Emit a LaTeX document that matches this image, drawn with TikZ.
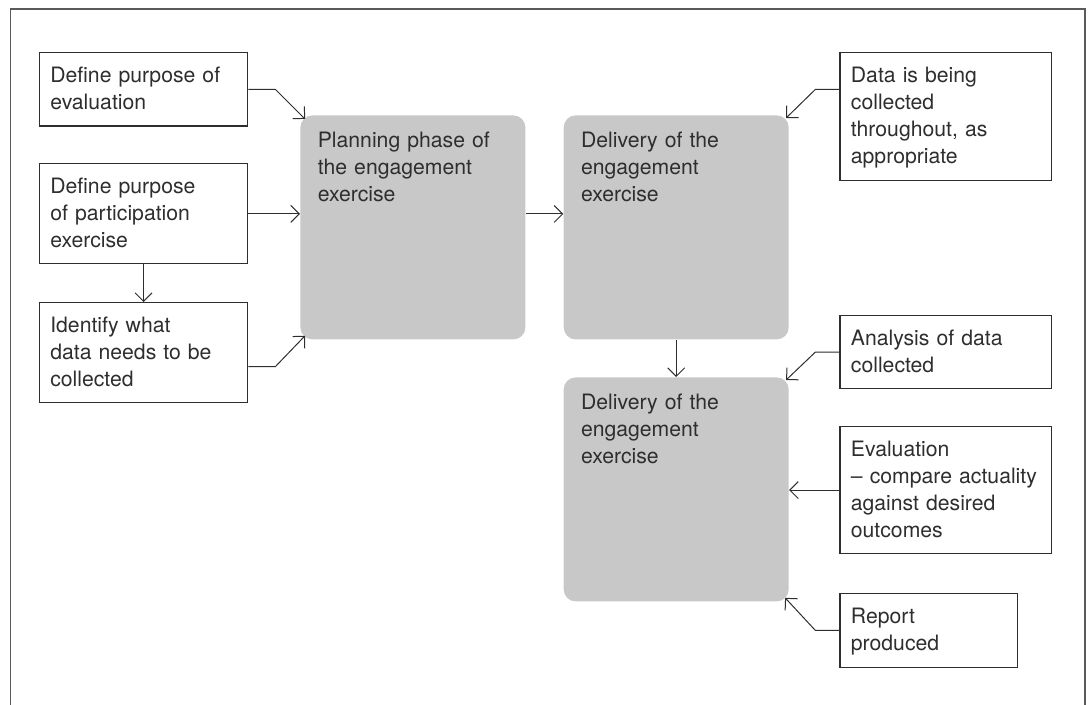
\documentclass[tikz,border=0pt]{standalone}
\usepackage{fontspec}
\setmainfont{TeX Gyre Heros}
\usepackage{xcolor}
\usetikzlibrary{arrows.meta,calc}

\definecolor{boxgrey}{HTML}{C8C8C8}
\definecolor{inkgrey}{HTML}{2E2E2E}
\definecolor{framegrey}{HTML}{5A5A5A}

\begin{document}
\frenchspacing
\begin{tikzpicture}[x=0.5pt,y=-0.5pt,draw=inkgrey,
  every node/.style={font=\fontsize{10.6}{13.45}\selectfont,text=inkgrey},
  note/.style={draw,line width=0.6pt,anchor=north west,inner xsep=5.5pt,inner ysep=6pt,
    text height=9pt,align=left,text width=#1,execute at end node={\rule[-2.1pt]{0pt}{2.1pt}}},
  phase/.style={fill=boxgrey,rounded corners=6pt,anchor=north west,inner xsep=8.7pt,inner ysep=7pt,
    text height=9pt,text depth=89pt,align=left,text width=95.1pt},
  link/.style={->,>={Straight Barb[angle=90:6pt]},line width=0.5pt}]
\useasboundingbox (0,0) rectangle (1090,705);
\draw[framegrey,line width=0.75pt] (10.7,705) -- (10.7,9) -- (1085,9) -- (1085,705);

\node[note=93.25pt] (evalpurp) at (38.7,52.3) {Define purpose of\\evaluation};
\node[note=93.25pt] (partpurp) at (38.7,163.3) {Define purpose\\of participation\\exercise};
\node[note=93.25pt] (datareq) at (38.7,302) {Identify what\\data needs to be\\collected};

\node[phase] (planning) at (300,115) {Planning phase of\\the engagement\\exercise};
\node[phase] (delivery) at (563.3,115) {Delivery of the\\engagement\\exercise};
\node[phase] (review) at (563.3,377) {Delivery of the\\engagement\\exercise};

\node[note=94.85pt] (collect) at (839.3,52.3) {Data is being\\collected\\throughout, as\\appropriate};
\node[note=94.85pt] (analysis) at (839.3,315) {Analysis of data\\collected};
\node[note=94.85pt] (evaluation) at (839.3,426) {Evaluation\\\textendash\ compare actuality\\against desired\\outcomes};
\node[note=77.7pt] (report) at (839.3,593) {Report\\produced};

\draw[link] (evalpurp.east) -- ++(27,0) -- ($(planning.north west)+(5,4)$);
\draw[link] (partpurp.east) -- (partpurp.east -| planning.west);
\draw[link] ($(datareq.east)+(0,14)$) -- ++(27,0) -- ($(planning.south west)+(5,-4)$);
\draw[link] (partpurp.south) -- (datareq.north);
\draw[link] (planning.east |- partpurp.east) -- (delivery.west |- partpurp.east);
\draw[link] (delivery.south) -- (review.north);
\draw[link] (collect.west |- evalpurp.east) -- ++(-24,0) -- ($(delivery.north east)+(-3,3)$);
\draw[link] (analysis.west) -- ++(-24,0) -- ($(review.north east)+(-3,3)$);
\draw[link] (evaluation.west) -- (evaluation.west -| review.east);
\draw[link] (report.west) -- ++(-24,0) -- ($(review.south east)+(-4,-4)$);
\end{tikzpicture}
\end{document}
